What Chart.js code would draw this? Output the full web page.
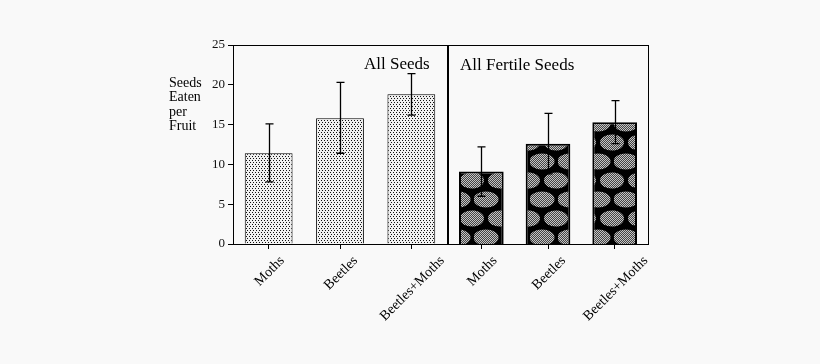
<!DOCTYPE html>
<html>
<head>
<meta charset="utf-8">
<script src="https://cdn.jsdelivr.net/npm/chart.js@4.4.1/dist/chart.umd.min.js"></script>
<style>
  html,body{margin:0;padding:0;background:#f9f9f9;}
  body{width:820px;height:364px;position:relative;overflow:hidden;font-family:"Liberation Serif","DejaVu Serif",serif;color:#000;}
  canvas{position:absolute;top:0;}
  .txt{position:absolute;white-space:nowrap;}
</style>
</head>
<body>
<canvas id="c1" width="450" height="364" style="left:0px;width:450px;height:364px"></canvas>
<canvas id="c2" width="214" height="364" style="left:446px;width:214px;height:364px"></canvas>
<div class="txt" style="left:169px;top:76px;font-size:14px;line-height:14.3px;">Seeds<br>Eaten<br>per<br>Fruit</div>
<div class="txt" style="left:364px;top:55px;font-size:17px;line-height:17px;">All Seeds</div>
<div class="txt" style="left:460px;top:56px;font-size:17px;line-height:17px;">All Fertile Seeds</div>
<script>
// ---- data ----
const categories = ['Moths', 'Beetles', 'Beetles+Moths'];
const allSeeds = [11.4, 15.8, 18.8];
const allSeedsLow = [7.8, 11.4, 16.2];
const allSeedsHigh = [15.1, 20.3, 21.4];
const fertileSeeds = [9.1, 12.6, 15.3];
const fertileLow = [6.0, 8.8, 12.6];
const fertileHigh = [12.2, 16.4, 18.0];
const yTicks = [0, 5, 10, 15, 20, 25];

// ---- patterns ----
function stipplePattern(ctx) {
  const c = document.createElement('canvas'); c.width = 6; c.height = 4;
  const g = c.getContext('2d');
  g.fillStyle = '#f0f0f0'; g.fillRect(0, 0, 6, 4);
  g.fillStyle = '#111';
  [[0,0],[3,0],[1,2],[4,2]].forEach(([x,y]) => g.fillRect(x, y, 1, 1));
  return ctx.createPattern(c, 'repeat');
}
function mottledPattern(ctx) {
  const ch = document.createElement('canvas'); ch.width = 2; ch.height = 2;
  const h = ch.getContext('2d');
  h.fillStyle = '#444'; h.fillRect(0, 0, 2, 2);
  h.fillStyle = '#c4c4c4'; h.fillRect(0, 0, 1, 1); h.fillRect(1, 1, 1, 1);
  const W = 28, H = 38;
  const c = document.createElement('canvas'); c.width = W; c.height = H;
  const g = c.getContext('2d');
  g.fillStyle = '#000'; g.fillRect(0, 0, W, H);
  g.fillStyle = g.createPattern(ch, 'repeat');
  [[12,9.5,12.5,8],[12,9.5-H,12.5,8],[12,9.5+H,12.5,8],
   [26,28.5,12,8],[26-W,28.5,12,8],[26,28.5-H,12,8],[26-W,28.5-H,12,8]].forEach(([x,y,rx,ry]) => {
    g.beginPath(); g.ellipse(x, y, rx, ry, 0, 0, Math.PI * 2); g.fill();
  });
  return ctx.createPattern(c, 'repeat');
}

const SERIF = '"Liberation Serif", "DejaVu Serif", serif';

function makePlugins(low, high, frameKind) {
  return [{
    id: 'errbars',
    afterDatasetsDraw(chart) {
      const ctx = chart.ctx, xs = chart.scales.x, ys = chart.scales.y;
      ctx.save();
      ctx.strokeStyle = '#000'; ctx.lineWidth = 1.3;
      for (let i = 0; i < low.length; i++) {
        const x = Math.round(xs.getPixelForValue(i)) + 0.5;
        const yh = ys.getPixelForValue(high[i]), yl = ys.getPixelForValue(low[i]);
        ctx.beginPath();
        ctx.moveTo(x, yh); ctx.lineTo(x, yl);
        ctx.moveTo(x - 4, yh); ctx.lineTo(x + 4, yh);
        ctx.moveTo(x - 4, yl); ctx.lineTo(x + 4, yl);
        ctx.stroke();
      }
      ctx.restore();
    },
    afterDraw(chart) {
      const ctx = chart.ctx, a = chart.chartArea, xs = chart.scales.x;
      ctx.save();
      ctx.strokeStyle = '#000'; ctx.fillStyle = '#000'; ctx.lineWidth = 1;
      ctx.beginPath();
      if (frameKind === 'left') {
        ctx.moveTo(a.left + 0.5, a.top); ctx.lineTo(a.left + 0.5, a.bottom + 1);
        ctx.moveTo(a.left, a.top + 0.5); ctx.lineTo(a.right, a.top + 0.5);
        ctx.moveTo(a.left, a.bottom + 0.5); ctx.lineTo(a.right, a.bottom + 0.5);
        ctx.stroke();
      } else {
        ctx.moveTo(a.left, a.top + 0.5); ctx.lineTo(a.right + 1, a.top + 0.5);
        ctx.moveTo(a.right + 0.5, a.top); ctx.lineTo(a.right + 0.5, a.bottom + 1);
        ctx.moveTo(a.left, a.bottom + 0.5); ctx.lineTo(a.right + 1, a.bottom + 0.5);
        ctx.stroke();
        ctx.fillRect(a.left - 1, a.top, 2, a.bottom - a.top + 1);
      }
      // rotated category labels centred under their ticks
      ctx.font = '14px ' + SERIF;
      ctx.fillStyle = '#000';
      ctx.textAlign = 'center'; ctx.textBaseline = 'middle';
      chart.data.labels.forEach((lab, i) => {
        const x = xs.getPixelForValue(i);
        const w = ctx.measureText(lab).width;
        const half = (w + 10) * Math.SQRT1_2 / 2;
        ctx.save();
        ctx.translate(x + 1, a.bottom + 11 + half);
        ctx.rotate(-Math.PI / 4);
        ctx.fillText(lab, 0, 0);
        ctx.restore();
      });
      ctx.restore();
    }
  }];
}

function baseOptions(showY, yWidth, padding) {
  return {
    responsive: false,
    animation: false,
    layout: { padding },
    plugins: { legend: { display: false }, tooltip: { enabled: false } },
    scales: {
      x: {
        type: 'category',
        offset: true,
        grid: { display: true, drawOnChartArea: false, drawTicks: true, tickLength: 5, offset: false, color: '#000', lineWidth: 1 },
        border: { display: false },
        ticks: { display: false },
        afterFit: s => { s.height = 120; }
      },
      y: {
        display: showY,
        min: 0, max: 25,
        afterBuildTicks: s => { s.ticks = yTicks.map(v => ({ value: v })); },
        grid: { display: true, drawOnChartArea: false, drawTicks: true, tickLength: 5, color: '#000', lineWidth: 1 },
        border: { display: false },
        ticks: { color: '#111', padding: 3, font: { family: SERIF, size: 13 } },
        afterFit: s => { s.width = yWidth; }
      }
    }
  };
}

const ctx1 = document.getElementById('c1').getContext('2d');
new Chart(ctx1, {
  type: 'bar',
  data: {
    labels: categories,
    datasets: [{
      data: allSeeds,
      backgroundColor: stipplePattern(ctx1),
      borderColor: '#000', borderWidth: 1,
      barPercentage: 0.67, categoryPercentage: 1
    }]
  },
  options: baseOptions(true, 233, { top: 45, right: 3, left: 0, bottom: 0 }),
  plugins: makePlugins(allSeedsLow, allSeedsHigh, 'left')
});

const ctx2 = document.getElementById('c2').getContext('2d');
new Chart(ctx2, {
  type: 'bar',
  data: {
    labels: categories,
    datasets: [{
      data: fertileSeeds,
      backgroundColor: mottledPattern(ctx2),
      borderColor: '#000', borderWidth: 2,
      barPercentage: 0.67, categoryPercentage: 1
    }]
  },
  options: baseOptions(false, 0, { top: 45, right: 12, left: 2, bottom: 0 }),
  plugins: makePlugins(fertileLow, fertileHigh, 'right')
});
</script>
</body>
</html>
